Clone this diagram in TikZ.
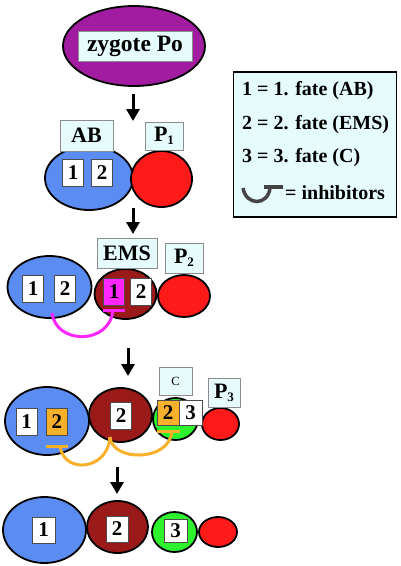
\documentclass[tikz,border=0pt]{standalone}
\usepackage{fontspec}
\setmainfont{Liberation Serif}
\usetikzlibrary{shapes.geometric,arrows.meta}
\definecolor{cpurple}{HTML}{A21CA2}
\definecolor{cblue}{HTML}{5B8CF2}
\definecolor{cred}{HTML}{FF1A1A}
\definecolor{cdred}{HTML}{9A1A1A}
\definecolor{cgreen}{HTML}{2EF22E}
\definecolor{cmag}{HTML}{FF26FF}
\definecolor{corange}{HTML}{F9B02A}
\definecolor{clabel}{HTML}{E6FCFC}
\definecolor{cgrey}{HTML}{444444}
\newcommand{\Psub}[1]{P\raisebox{-3pt}{\fontsize{13}{13}\selectfont #1}}
\begin{document}
\begin{tikzpicture}[x=1pt,y=-1pt,
  cell/.style={ellipse, draw=black, line width=1.8pt, inner sep=0pt, outer sep=0pt},
  numbox/.style={draw=black!70, line width=0.6pt, fill=white, minimum width=21pt, minimum height=27pt, inner sep=0pt, font=\fontsize{21}{21}\selectfont\bfseries},
  lab/.style={draw=black!45, line width=0.8pt, fill=clabel, inner sep=0pt, font=\fontsize{22}{22}\selectfont\bfseries},
  stagearrow/.style={line width=3pt, -{Triangle[width=13pt,length=12pt]}},
  inhib/.style={line width=3pt},
  legtext/.style={anchor=west, inner sep=0pt, font=\fontsize{20}{20}\selectfont\bfseries}]
\useasboundingbox (0,0) rectangle (400,566);
\fill[white] (0,0) rectangle (400,566);

% stage 1
\node[cell, fill=cpurple, minimum width=142pt, minimum height=80pt] (zyg) at (134,46) {};
\node[lab, minimum width=114pt, minimum height=30pt] (zygl) at (135,46) {\fontsize{23.5}{23.5}\selectfont zygote Po};
\coordinate (a1s) at (133,94); \coordinate (a1e) at (133,121);
\draw[stagearrow] (a1s) -- (a1e);

% stage 2
\node[cell, fill=cblue, minimum width=88pt, minimum height=64pt] (ab) at (89,178) {};
\node[cell, fill=cred, minimum width=61pt, minimum height=56pt] (p1) at (161.5,179) {};
\node[numbox] (ab1) at (73,172.5) {1};
\node[numbox] (ab2) at (102,172.5) {2};
\node[lab, minimum width=53pt, minimum height=31pt] (abl) at (86.5,135.5) {AB};
\node[lab, minimum width=38pt, minimum height=28pt] (p1l) at (164,136) {\Psub{1}};
\coordinate (a2s) at (133,208); \coordinate (a2e) at (133,234);
\draw[stagearrow] (a2s) -- (a2e);

% stage 3
\node[cell, fill=cblue, minimum width=84pt, minimum height=62pt] (ab3) at (49.5,287) {};
\node[cell, fill=cdred, minimum width=62pt, minimum height=50pt] (ems3) at (125.5,294) {};
\node[cell, fill=cred, minimum width=52pt, minimum height=42pt] (p23) at (184,296) {};
\node[numbox] (s3a1) at (33,289) {1};
\node[numbox] (s3a2) at (65,289) {2};
\node[numbox, fill=cmag] (s3e1) at (114,291.5) {1};
\node[numbox] (s3e2) at (141,291.5) {2};
\node[lab, minimum width=60pt, minimum height=30pt] (emsl) at (127,253) {EMS};
\node[lab, minimum width=38pt, minimum height=30pt] (p2l) at (184,258) {\Psub{2}};
\coordinate (m1) at (52,313); \coordinate (m2) at (113,310);
\coordinate (mb1) at (103,310); \coordinate (mb2) at (125,310);
\draw[inhib, cmag] (m1) .. controls (56,345) and (110,345) .. (m2);
\draw[inhib, cmag] (mb1) -- (mb2);
\coordinate (a3s) at (128,348); \coordinate (a3e) at (128,376);
\draw[stagearrow] (a3s) -- (a3e);

% stage 4
\node[cell, fill=cblue, minimum width=84pt, minimum height=68pt] (ab4) at (47,421) {};
\node[cell, fill=cdred, minimum width=63pt, minimum height=54pt] (ems4) at (120.5,415) {};
\node[cell, fill=cgreen, minimum width=45pt, minimum height=42pt] (c4) at (175.5,419) {};
\node[cell, fill=cred, minimum width=37pt, minimum height=32pt] (p34) at (220.5,424) {};
\node[numbox] (s4a1) at (26.5,422) {1};
\node[numbox, fill=corange] (s4a2) at (57,422) {2};
\node[numbox] (s4e2) at (121,415.5) {2};
\node[numbox, fill=corange, minimum height=25pt, minimum width=22pt] (s4c2) at (168,412.5) {2};
\node[numbox, minimum height=25pt, minimum width=23pt] (s4c3) at (190.5,412.5) {3};
\node[lab, minimum width=33pt, minimum height=28pt, font=\fontsize{12.5}{12.5}\selectfont] (cl) at (175.5,381) {C};
\node[lab, minimum width=32pt, minimum height=29pt] (p3l) at (224,392.5) {\Psub{3}};
\coordinate (o1) at (60,446); \coordinate (o2) at (110,437); \coordinate (o3) at (172,431);
\coordinate (ob1) at (46,446); \coordinate (ob2) at (68,446);
\coordinate (oc1) at (157,431); \coordinate (oc2) at (180,431);
\draw[inhib, corange] (o1) .. controls (64,475) and (108,470) .. (o2);
\draw[inhib, corange] (o2) .. controls (112,462) and (170,462) .. (o3);
\draw[inhib, corange] (ob1) -- (ob2);
\draw[inhib, corange] (oc1) -- (oc2);
\coordinate (a4s) at (117,467); \coordinate (a4e) at (117,494);
\draw[stagearrow] (a4s) -- (a4e);

% stage 5
\node[cell, fill=cblue, minimum width=83pt, minimum height=66pt] (ab5) at (44.5,530) {};
\node[cell, fill=cdred, minimum width=61pt, minimum height=52pt] (ems5) at (117.5,527) {};
\node[cell, fill=cgreen, minimum width=45pt, minimum height=40pt] (c5) at (174.5,532) {};
\node[cell, fill=cred, minimum width=38pt, minimum height=30pt] (p5) at (218,532) {};
\node[numbox, minimum width=23pt, minimum height=26pt] (s5a) at (43.5,530) {1};
\node[numbox, minimum width=22pt, minimum height=26pt] (s5e) at (117,529) {2};
\node[numbox, minimum width=23pt, minimum height=23pt] (s5c) at (175.5,530.5) {3};

% legend
\node[draw=black, line width=1.8pt, fill=clabel, minimum width=163pt, minimum height=145pt, inner sep=0pt] (legend) at (315,144.5) {};
\node[legtext] (l1) at (242,91) {1 = 1. fate (AB)};
\node[legtext] (l2) at (242,125) {2 = 2. fate (EMS)};
\node[legtext] (l3) at (242,158) {3 = 3. fate (C)};
\node[legtext] (l4) at (285,193) {= inhibitors};
\coordinate (g1) at (243,188); \coordinate (g2) at (270,188);
\coordinate (gb1) at (264,187); \coordinate (gb2) at (283,187);
\draw[line width=3.5pt, cgrey] (g1) .. controls (246,206) and (268,206) .. (g2);
\draw[line width=3.5pt, cgrey] (gb1) -- (gb2);
\end{tikzpicture}
\end{document}
